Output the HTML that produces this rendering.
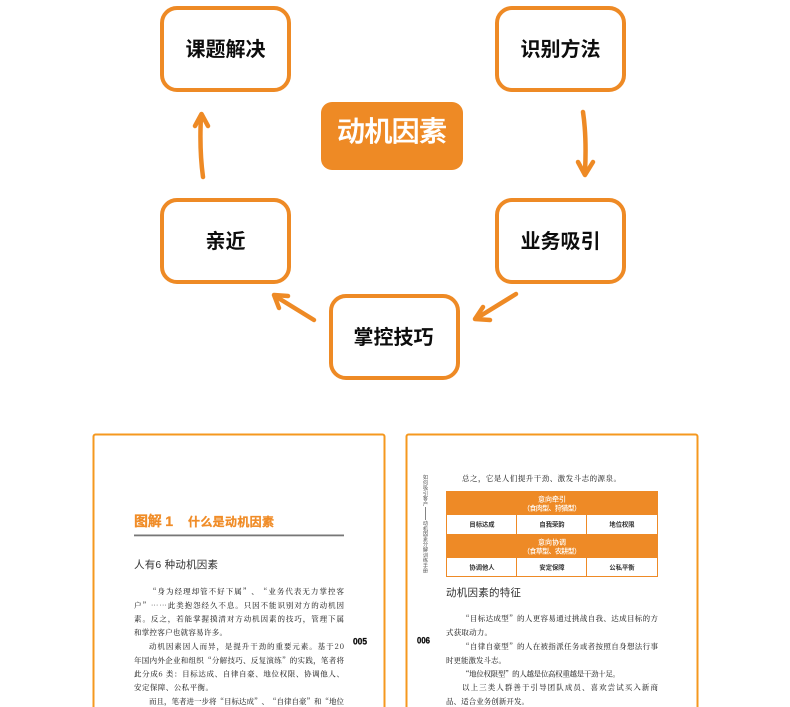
<!DOCTYPE html>
<html><head><meta charset="utf-8"><style>
html,body{margin:0;padding:0;background:#fff}
svg{display:block}
text{font-family:"Liberation Sans","Noto Sans CJK SC",sans-serif}
.n{font-size:20px;font-weight:700;fill:#111;text-anchor:middle}
.b{font-size:7.5px;fill:#333;font-family:"Noto Serif CJK SC","Liberation Serif",serif;font-weight:500}
.t{font-size:6.3px;font-weight:700;fill:#333;text-anchor:middle}
.w{font-size:7px;fill:#fff;text-anchor:middle;font-weight:500}
.h{font-size:10.500px;fill:#333}
.p{font-size:9px;font-weight:700;fill:#111;stroke:#111;stroke-width:0.3;font-family:"Liberation Sans",sans-serif}
.v{font-size:5.200px;fill:#555;text-anchor:middle}
</style></head><body>
<svg width="790" height="707" viewBox="0 0 790 707" xmlns="http://www.w3.org/2000/svg">
<defs>
<filter id="s" x="-5%" y="-5%" width="110%" height="110%"><feGaussianBlur stdDeviation="0.35"/></filter>
<filter id="s2" x="-5%" y="-5%" width="110%" height="110%"><feGaussianBlur stdDeviation="0.2"/></filter>
</defs>
<rect width="790" height="707" fill="#fff"/>
<g fill="#fff" stroke="#EE8A25" stroke-width="4">
<rect x="162" y="8" width="127" height="82" rx="15"/>
<rect x="497" y="8" width="127" height="82" rx="15"/>
<rect x="497" y="200" width="127" height="82" rx="15"/>
<rect x="162" y="200" width="127" height="82" rx="15"/>
<rect x="331" y="296" width="127" height="82" rx="15"/>
</g>
<rect x="321" y="102" width="142" height="68" rx="11" fill="#EE8A25"/>
<g filter="url(#s2)">
<text class="n" x="225.500" y="56">课题解决</text>
<text class="n" x="560.500" y="56">识别方法</text>
<text class="n" x="560.500" y="248">业务吸引</text>
<text class="n" x="225.500" y="248">亲近</text>
<text class="n" x="393.500" y="344">掌控技巧</text>
<text x="392" y="141" font-size="28" font-weight="500" fill="#fff" stroke="#fff" stroke-width="0.4" text-anchor="middle" textLength="110">动机因素</text>
</g>
<g fill="none" stroke="#EE8A25" stroke-width="4.500" stroke-linecap="round" stroke-linejoin="round">
<path d="M203 177C200 155 200 135 201 116"/><path d="M195 126L201.500 114L208 126"/>
<path d="M583 112C586 132 586 152 585 172"/><path d="M578 162L585 175L593 162"/>
<path d="M516 294L477 318"/><path d="M483 307L475 319L490 320"/>
<path d="M314 320L275 296"/><path d="M288 296L274 295L279 308"/>
</g>
<rect x="93.500" y="434.500" width="291" height="290" rx="2" fill="#fff" stroke="#F5981F" stroke-width="2"/>
<rect x="406.500" y="434.500" width="291" height="290" rx="2" fill="#fff" stroke="#F5981F" stroke-width="2"/>
<g filter="url(#s)">
<text x="134" y="526" font-size="14" font-weight="700" fill="#F08C28" stroke="#F08C28" stroke-width="0.3" textLength="39" lengthAdjust="spacing">图解 1</text>
<text x="188" y="526" font-size="12" font-weight="700" fill="#F08C28" stroke="#F08C28" stroke-width="0.3" textLength="86" lengthAdjust="spacing">什么是动机因素</text>
<rect x="134" y="534.500" width="210" height="1.800" fill="#777"/>
<text class="h" x="134" y="568" textLength="84">人有6 种动机因素</text>
<text class="b" x="149" y="594" textLength="195">“身为经理却管不好下属”、“业务代表无力掌控客</text>
<text class="b" x="134" y="608" textLength="210">户”……此类抱怨经久不息。只因不能识别对方的动机因</text>
<text class="b" x="134" y="621.500" textLength="210">素。反之，若能掌握摸清对方动机因素的技巧，管理下属</text>
<text class="b" x="134" y="635" textLength="93">和掌控客户也就容易许多。</text>
<text class="b" x="149" y="649" textLength="195">动机因素因人而异，是提升干劲的重要元素。基于20</text>
<text class="b" x="134" y="663" textLength="210">年国内外企业和组织“分解技巧、反复演练”的实践，笔者将</text>
<text class="b" x="134" y="676.500" textLength="210">此分成6 类：目标达成、自律自豪、地位权限、协调他人、</text>
<text class="b" x="134" y="690" textLength="79">安定保障、公私平衡。</text>
<text class="b" x="149" y="704" textLength="195">而且，笔者进一步将“目标达成”、“自律自豪”和“地位</text>
<text class="p" x="353" y="644.500" textLength="14" lengthAdjust="spacingAndGlyphs">005</text>
<text class="p" x="417" y="643.500" textLength="13" lengthAdjust="spacingAndGlyphs">006</text>
<text class="b" x="462" y="481" textLength="159">总之，它是人们提升干劲、激发斗志的源泉。</text>
<text class="v" x="425.500" y="479">如</text><text class="v" x="425.500" y="484.300">何</text><text class="v" x="425.500" y="489.600">吸</text><text class="v" x="425.500" y="494.900">引</text><text class="v" x="425.500" y="500.200">客</text><text class="v" x="425.500" y="505.500">户</text>
<rect x="425" y="507" width="0.800" height="13" fill="#666"/>
<text class="v" x="425.500" y="525">动</text><text class="v" x="425.500" y="530.300">机</text><text class="v" x="425.500" y="535.600">因</text><text class="v" x="425.500" y="540.900">素</text><text class="v" x="425.500" y="546.200">分</text><text class="v" x="425.500" y="551.500">解</text><text class="v" x="425.500" y="556.800">训</text><text class="v" x="425.500" y="562.100">练</text><text class="v" x="425.500" y="567.400">手</text><text class="v" x="425.500" y="572.700">册</text>
<rect x="446.500" y="491.500" width="211" height="85" fill="#fff" stroke="#EE8A25" stroke-width="1"/>
<rect x="446" y="491" width="212" height="24" fill="#EE8A25"/>
<rect x="446" y="534" width="212" height="24" fill="#EE8A25"/>
<g stroke="#EE8A25" stroke-width="1"><path d="M516.500 515V534M586.500 515V534M516.500 558V577M586.500 558V577"/></g>
<text class="w" x="552" y="501.500">意向牵引</text><text class="w" x="552" y="510.500" textLength="58">（食肉型、狩猎型）</text>
<text class="w" x="552" y="544.500">意向协调</text><text class="w" x="552" y="553.500" textLength="58">（食草型、农耕型）</text>
<text class="t" x="482" y="526.500">目标达成</text><text class="t" x="552" y="526.500">自我荣韵</text><text class="t" x="622" y="526.500">地位权限</text>
<text class="t" x="482" y="569.500">协调他人</text><text class="t" x="552" y="569.500">安定保障</text><text class="t" x="622" y="569.500">公私平衡</text>
<text class="h" x="446" y="596" textLength="75">动机因素的特征</text>
<text class="b" x="462" y="621" textLength="196">“目标达成型”的人更容易通过挑战自我、达成目标的方</text>
<text class="b" x="446" y="635" textLength="46">式获取动力。</text>
<text class="b" x="462" y="649" textLength="196">“自律自豪型”的人在被指派任务或者按照自身想法行事</text>
<text class="b" x="446" y="663" textLength="60">时更能激发斗志。</text>
<text class="b" x="462" y="676.500" textLength="158">“地位权限型”的人越是位高权重越是干劲十足。</text>
<text class="b" x="462" y="690" textLength="196">以上三类人群善于引导团队成员、喜欢尝试买入新商</text>
<text class="b" x="446" y="704" textLength="83">品、适合业务创新开发。</text>
</g>
</svg>
</body></html>
